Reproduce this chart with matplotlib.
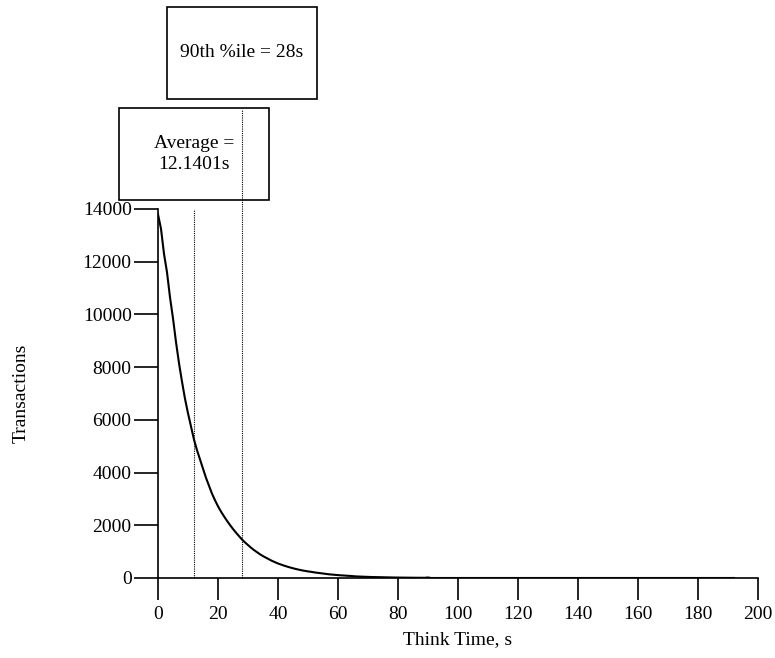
import numpy as np
import matplotlib
matplotlib.use("Agg")
from matplotlib import pyplot as plt
from matplotlib.patches import Rectangle

# transactions per 1 s think-time bin, starting at 0 s
counts = [13800, 13250, 12300, 11600, 10650, 9850, 8950, 8150, 7450, 6800,
          6250, 5750, 5250, 4850, 4500, 4150, 3800, 3500, 3200, 2950,
          2720, 2520, 2340, 2170, 2010, 1860, 1720, 1590, 1460, 1350,
          1250, 1150, 1060, 980, 900, 830, 770, 710, 650, 600,
          550, 510, 470, 435, 400, 370, 340, 315, 290, 270,
          250, 235, 215, 200, 185, 170, 155, 140, 130, 120,
          110, 100, 95, 85, 80, 70, 60, 55, 50, 45,
          40, 38, 35, 32, 30, 28, 25, 22, 20, 18,
          16, 15, 14, 12, 11, 10, 10, 9, 8, 8, 20, 0]
last_bin = 192
avg_time = 12.1401
pct90_time = 28
avg_label = "Average =\n12.1401s"
pct90_label = "90th %ile = 28s"

xticks = list(range(0, 201, 20))
yticks = list(range(0, 14001, 2000))

plt.rcParams['font.family'] = ['Liberation Serif', 'DejaVu Serif']
plt.rcParams['font.size'] = 14

fig = plt.figure(figsize=(7.75, 6.58), dpi=100)
ax = fig.add_axes([158 / 775, 1 - 578 / 658, 600 / 775, 369 / 658])

# histogram curve, padded with empty bins out to the last one
vals = counts + [0] * (last_bin - len(counts) + 1)
t = np.arange(len(vals))
ax.plot(t, vals, color='black', lw=1.5)

ax.set_xlim(0, 200)
ax.set_ylim(0, 14000)
ax.set_xticks(xticks)
ax.set_yticks(yticks)
for s in ['top', 'right']:
    ax.spines[s].set_visible(False)
for s in ['left', 'bottom']:
    ax.spines[s].set_linewidth(1.2)
ax.tick_params(axis='y', direction='out', length=17, width=1.2, pad=2)
ax.tick_params(axis='x', direction='out', length=16, width=1.2, pad=4)

ax.set_xlabel("Think Time, s", labelpad=6)
ax.set_ylabel("Transactions", labelpad=38)

# marker lines for the average and 90th percentile
dots = (0, (1, 1))
ax.vlines(avg_time, 0, 14000, colors='black', linestyles=dots, lw=0.8)
ax.vlines(pct90_time, 0, 17800, colors='black', linestyles=dots, lw=0.8,
          clip_on=False)

# boxed labels above the plot, centred on each line
box_w = 50
ax.add_patch(Rectangle((avg_time - box_w / 2, 14340), box_w, 3490,
                       fill=False, ec='black', lw=1.2, clip_on=False))
ax.text(avg_time, 16080, avg_label, ha='center', va='center',
        multialignment='center', linespacing=1.3)
ax.add_patch(Rectangle((pct90_time - box_w / 2, 18170), box_w, 3490,
                       fill=False, ec='black', lw=1.2, clip_on=False))
ax.text(pct90_time, 19920, pct90_label, ha='center', va='center')

fig.savefig("out.png", dpi=100)
